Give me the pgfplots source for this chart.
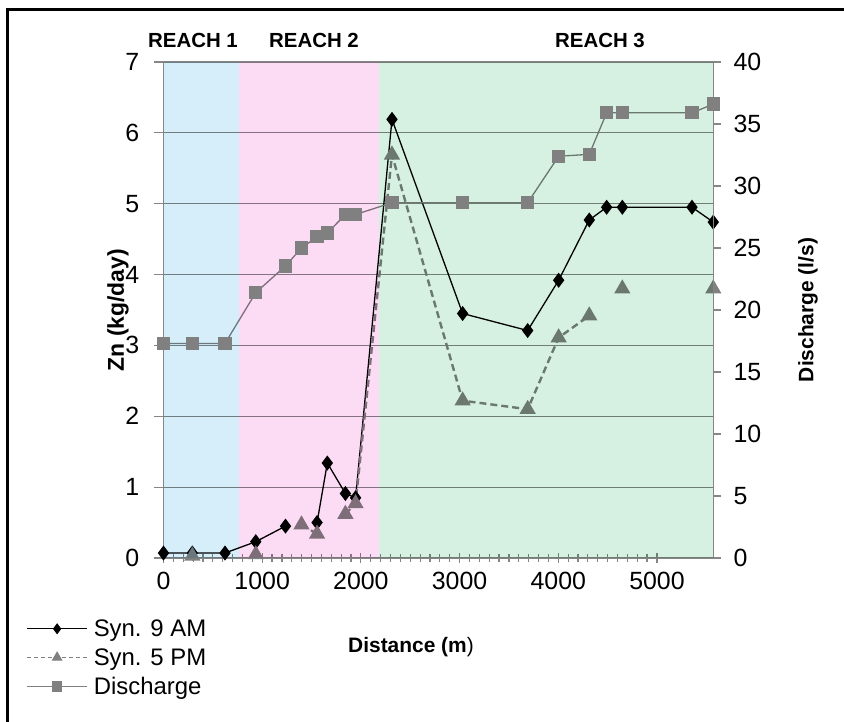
\documentclass[border=0pt]{standalone}
\usepackage{pgfplots}
\pgfplotsset{compat=1.18}
\usepackage{fontspec}
\setmainfont{Liberation Sans}

\definecolor{axgray}{RGB}{134,134,134}
\definecolor{sergray}{RGB}{128,128,128}
\definecolor{reachA}{RGB}{213,238,250}
\definecolor{reachB}{RGB}{252,220,244}
\definecolor{reachC}{RGB}{214,241,225}

% Zn load (kg/day) at the synoptic sampling points
\pgfplotstableread{
x     am    pm
0     0.07  nan
292   0.07  0.03
623   0.07  nan
935   0.23  0.05
1236  0.45  nan
1398  nan   0.47
1556  0.50  0.34
1660  1.34  nan
1843  0.91  0.62
1946  0.85  0.77
2315  6.19  5.69
3031  3.45  2.22
3690  3.21  2.10
4004  3.92  3.11
4314  4.77  3.42
4490  4.95  nan
4649  4.95  3.80
5355  4.95  nan
5571  4.74  3.80
}\zinc

% Discharge (l/s)
\pgfplotstableread{
x     q
0     17.3
292   17.3
623   17.3
935   21.4
1236  23.55
1398  25.0
1556  25.9
1660  26.2
1843  27.7
1946  27.7
2315  28.65
3031  28.65
3690  28.65
4004  32.4
4314  32.55
4490  35.9
4649  35.9
5355  35.9
5571  36.6
}\flow

\pgfplotsset{
  common/.style={
    at={(163.5bp,164bp)}, anchor=south west,
    width=549.8bp, height=496bp, scale only axis,
    xmin=0, xmax=5571,
    axis line style={axgray, line width=1.2bp},
    tick style={axgray, line width=1.2bp},
    ticklabel style={font=\fontsize{25}{28}\selectfont},
    /pgf/number format/assume math mode=true,
    /pgf/number format/1000 sep={},
    clip=false,
  },
}

\begin{document}
\begin{tikzpicture}[x=1bp,y=1bp]
\useasboundingbox (0,0) rectangle (844,722);

% left axis: Zn load
\begin{axis}[common,
  ymin=0, ymax=7, ytick={0,...,7},
  axis x line*=bottom, axis y line*=left,
  xtick={0,1000,...,5000}, minor x tick num=9,
  xtick align=center, ytick align=outside,
  major tick length=10bp, minor tick length=8bp,
  ymajorgrids, grid style={axgray, line width=1.2bp},
  yticklabel style={inner sep=0pt, xshift=-14bp},
  xticklabel style={inner sep=0pt, yshift=-9bp},
  unbounded coords=jump,
]
\addplot[black, line width=1.3bp, mark=diamond*, mark size=6.5bp,
  mark options={solid, fill=black}]
  table[x=x, y=am] {\zinc};
\addplot[sergray, line width=2.4bp, dash pattern=on 7bp off 4bp,
  mark=triangle*, mark size=7bp, mark options={solid, fill=sergray, draw=sergray}]
  table[x=x, y=pm] {\zinc};
\end{axis}

% right axis: discharge, with the reach shading on top
\begin{axis}[common,
  ymin=0, ymax=40, ytick={0,5,...,40},
  axis x line=none, axis y line*=right,
  ytick align=outside, major tick length=8bp,
  yticklabel style={inner sep=0pt, xshift=12bp},
  legend style={at={(-0.255,-0.118)}, anchor=north west, draw=none, fill=none,
    font=\fontsize{24}{26}\selectfont, row sep=8.5bp,
    nodes={inner xsep=6bp, inner ysep=1bp}},
  legend cell align=left,
  legend image code/.code={
    \draw[mark repeat=2, mark phase=2, #1]
      plot coordinates {(0bp,0bp) (30bp,0bp) (60bp,0bp)};},
]
\addplot[sergray, line width=1.3bp, mark=square*, mark size=6bp,
  mark options={fill=sergray, draw=sergray}, forget plot]
  table[x=x, y=q] {\flow};

\fill[reachA, blend mode=multiply] (axis cs:0,0) rectangle (axis cs:765,40);
\fill[reachB, blend mode=multiply] (axis cs:765,0) rectangle (axis cs:2187,40);
\fill[reachC, blend mode=multiply] (axis cs:2187,0) rectangle (axis cs:5571,40);

\addlegendimage{black, line width=1.3bp, mark=diamond*, mark size=4.5bp, mark options={fill=black}}
\addlegendentry{Syn. 9 AM}
\addlegendimage{sergray, line width=1.3bp, dash pattern=on 4bp off 3bp, mark=triangle*, mark size=5bp,
  mark options={solid, fill=sergray}}
\addlegendentry{Syn. 5 PM}
\addlegendimage{sergray, line width=1.3bp, mark=square*, mark size=4.5bp, mark options={fill=sergray}}
\addlegendentry{Discharge}
\end{axis}

% titles
\node[font=\bfseries\fontsize{23}{26}\selectfont, rotate=90] at (118,412) {Zn (kg/day)};
\node[font=\bfseries\fontsize{21}{24}\selectfont, rotate=90] at (808,412) {Discharge (l/s)};
\node[font=\fontsize{21}{24}\selectfont] at (411,75) {\textbf{Distance (m})};
\node[font=\bfseries\fontsize{20.5}{23}\selectfont] at (193,682) {REACH 1};
\node[font=\bfseries\fontsize{20.5}{23}\selectfont] at (314,682) {REACH 2};
\node[font=\bfseries\fontsize{20.5}{23}\selectfont] at (600,682) {REACH 3};

% outer frame
\draw[black, line width=3.3bp] (7.3,-20) -- (7.3,712.5) -- (900,712.5);
\end{tikzpicture}
\end{document}
